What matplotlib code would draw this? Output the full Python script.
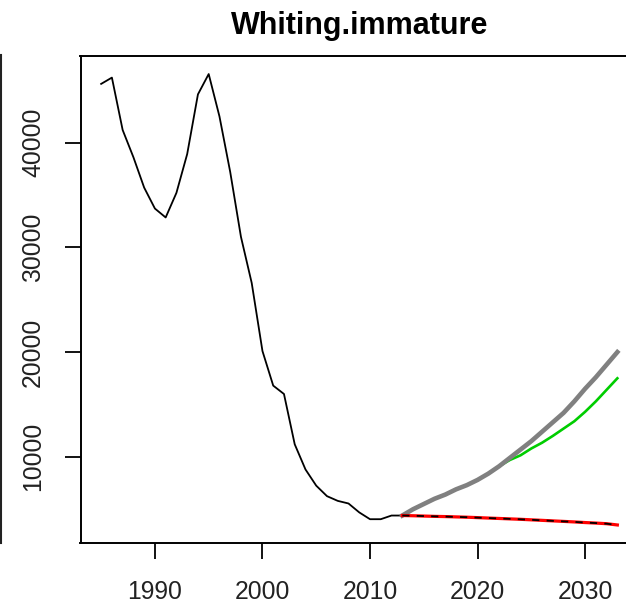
import matplotlib
matplotlib.use("Agg")
import matplotlib.pyplot as plt
from matplotlib.lines import Line2D

plt.rcParams['font.family'] = ['Liberation Sans', 'DejaVu Sans']

# historical series
hist_years = list(range(1985, 2014))
hist_vals = [45600, 46200, 41200, 38600, 35700, 33700, 32850, 35200, 38900, 44600,
             46540, 42500, 37200, 31000, 26600, 20100, 16800, 16000, 11200, 8800,
             7250, 6250, 5800, 5550, 4700, 4050, 4050, 4400, 4400]

# projections
proj_years = list(range(2013, 2034))
gray_vals = [4400, 5000, 5500, 6000, 6400, 6900, 7300, 7800, 8400, 9100, 9900,
             10700, 11500, 12400, 13300, 14200, 15300, 16500, 17600, 18800, 20000]
red_vals = [4400, 4380, 4350, 4320, 4300, 4270, 4240, 4200, 4160, 4120, 4080,
            4040, 3990, 3940, 3890, 3840, 3790, 3730, 3680, 3620, 3500]

green_years = list(range(2021, 2034))
green_vals = [8400, 9100, 9700, 10150, 10800, 11350, 12000, 12700, 13400, 14300,
              15300, 16400, 17500]

title = "Whiting.immature"
xticks = [1990, 2000, 2010, 2020, 2030]
yticks = [10000, 20000, 30000, 40000]

fig = plt.figure(figsize=(6.26, 6.03), dpi=100)
ax = fig.add_axes([80.5 / 626, 60 / 603, 557.5 / 626, 487 / 603])

ax.plot(hist_years, hist_vals, color="black", lw=1.3, zorder=2)
ax.plot(green_years, green_vals, color="#00CD00", lw=1.9, zorder=3)
ax.plot(proj_years, gray_vals, color="#808080", lw=3.3, zorder=4)
ax.plot(proj_years, red_vals, color="#FF0000", lw=2.3, zorder=5)
ax.plot(proj_years, red_vals, color="black", lw=1.3, dashes=(4, 4), zorder=6)

# R style axis range: 4% padding
all_x = hist_years + proj_years
all_y = hist_vals + gray_vals + red_vals + green_vals
xr = max(all_x) - min(all_x)
yr = max(all_y) - min(all_y)
ax.set_xlim(min(all_x) - 0.04 * xr, max(all_x) + 0.04 * xr)
ax.set_ylim(min(all_y) - 0.04 * yr, max(all_y) + 0.04 * yr)

ax.set_xticks(xticks)
ax.set_yticks(yticks)
ax.set_xticklabels([str(v) for v in xticks])
ax.set_yticklabels([str(v) for v in yticks], rotation=90, va="center")
ax.tick_params(axis="both", length=11.5, width=1.3, color="black",
               labelsize=17.8, labelcolor="#222222", direction="out")
ax.tick_params(axis="x", pad=15)
ax.tick_params(axis="y", pad=14)
for s in ax.spines.values():
    s.set_linewidth(1.4)
    s.set_color("black")

ax.set_title(title, fontsize=22, fontweight="bold", pad=16)

# edge of neighbouring panel box
fig.add_artist(Line2D([1 / 626, 1 / 626], [60 / 603, 548 / 603],
                      transform=fig.transFigure, color="#222222", lw=1.5))

fig.savefig("out.png", dpi=100)
